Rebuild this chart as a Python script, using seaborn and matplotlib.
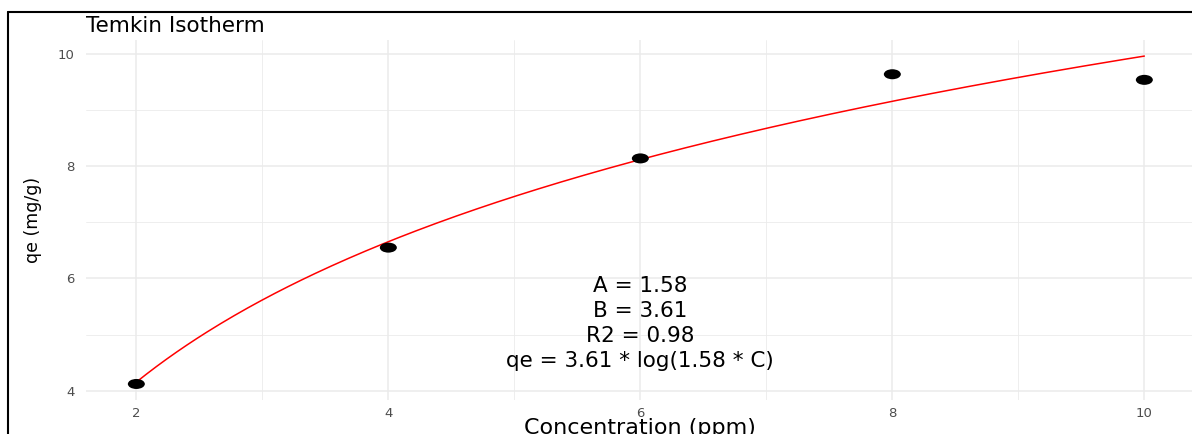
import numpy as np
import pandas as pd
import matplotlib
matplotlib.use("Agg")
import matplotlib.pyplot as plt
from matplotlib.lines import Line2D
from matplotlib.markers import MarkerStyle
from matplotlib.path import Path
from matplotlib.transforms import Affine2D
import seaborn as sns

# Measured equilibrium data
concentration = [2, 4, 6, 8, 10]
qe_observed = [4.12, 6.55, 8.14, 9.64, 9.54]

# Temkin fit parameters: qe = B * ln(A * C)
A_fit = 1.58
B_fit = 3.61
R2_fit = 0.98

x_ticks = [2, 4, 6, 8, 10]
x_minor = [3, 5, 7, 9]
y_ticks = [4, 6, 8, 10]
y_minor = [5, 7, 9]

points = pd.DataFrame({"C": concentration, "qe": qe_observed})
c_grid = np.linspace(min(concentration), max(concentration), 300)
fit = pd.DataFrame({"C": c_grid, "qe": B_fit * np.log(A_fit * c_grid)})

sns.set_theme(style="white")
plt.rcParams["font.family"] = ["DejaVu Sans"]

fig = plt.figure(figsize=(11.92, 4.34), dpi=100)
ax = fig.add_axes([0.0721, 0.0783, 0.9302, 0.8295])

grid_col = "#ebebeb"
ax.set_xticks(x_ticks)
ax.set_xticks(x_minor, minor=True)
ax.set_yticks(y_ticks)
ax.set_yticks(y_minor, minor=True)
ax.grid(which="major", color=grid_col, lw=1.1)
ax.grid(which="minor", color=grid_col, lw=0.6)
ax.set_axisbelow(True)

# fitted Temkin curve
sns.lineplot(data=fit, x="C", y="qe", color="red", lw=1.1, ax=ax, zorder=2)

# observed points, drawn as slightly wide dots
dot = MarkerStyle(Path.unit_circle().transformed(Affine2D().scale(1.7, 1.0)))
sns.scatterplot(data=points, x="C", y="qe", marker=dot, s=150, color="black",
                edgecolor="none", ax=ax, zorder=3)

ax.set_xlim(1.6, 10.4)
ax.set_ylim(3.834, 10.25)

for s in ax.spines.values():
    s.set_visible(False)
ax.tick_params(which="both", length=0)
ax.tick_params(axis="x", labelsize=9.5, labelcolor="#4d4d4d", pad=5)
ax.tick_params(axis="y", labelsize=9.5, labelcolor="#4d4d4d", pad=8)

ax.set_xlabel("Concentration (ppm)", fontsize=16, color="black", va="top")
ax.xaxis.set_label_coords(0.5, -0.05)
ax.set_ylabel("qe (mg/g)", fontsize=12.5, color="black")
ax.yaxis.set_label_coords(-0.0397, 0.5)

ax.set_title("Temkin Isotherm", loc="left", pad=5.5, fontsize=15.5, color="black")

label = "\n".join([
    f"A = {A_fit:.2f}",
    f"B = {B_fit:.2f}",
    f"R2 = {R2_fit:.2f}",
    f"qe = {B_fit:.2f} * log({A_fit:.2f} * C)",
])
ax.text(6, 5.20, label, ha="center", va="center", fontsize=15.5,
        linespacing=1.3, color="black", multialignment="center")

# outer frame along the left and top edges
fig.add_artist(Line2D([0.0065, 0.0065], [0, 0.9712], transform=fig.transFigure,
                      color="black", lw=1.5))
fig.add_artist(Line2D([0.0065, 1.0], [0.9712, 0.9712], transform=fig.transFigure,
                      color="black", lw=1.5))

fig.savefig("out.png", dpi=100)
